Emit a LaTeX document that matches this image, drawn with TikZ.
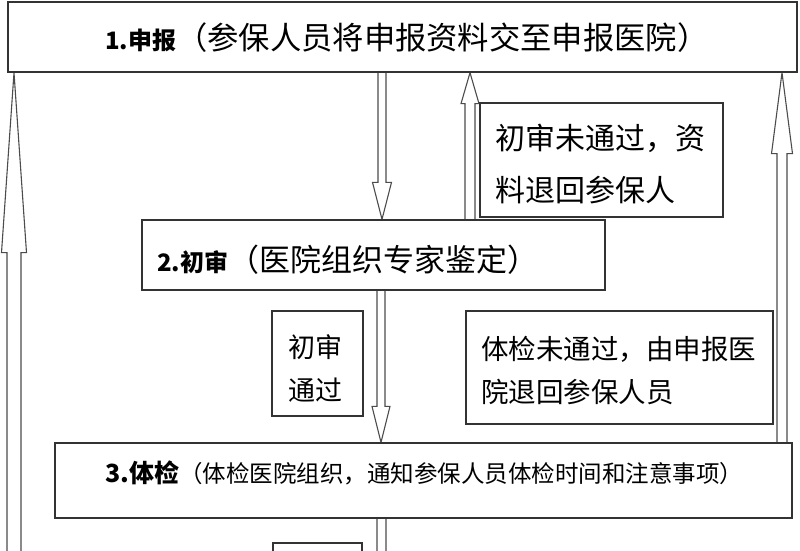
\documentclass[tikz,border=0pt]{standalone}
\usepackage{fontspec}
\newfontfamily\cjk{Noto Sans CJK SC}
\usetikzlibrary{calc}
\pgfdeclarelayer{bg}
\pgfsetlayers{bg,main}
% hollow arrow: #1 centre x, #2 tail anchor, #3 tip anchor, #4 shaft half width, #5 head half width, #6 head length
\newcommand\harrow[6]{%
  \draw[harr] let \p1=(#2), \p2=(#3), \n1={sign(\y2-\y1)} in
    ({#1pt-#4pt},{\y1}) -- ({#1pt-#4pt},{\y2-(\n1)*#6pt}) -- ({#1pt-#5pt},{\y2-(\n1)*#6pt})
    -- ({#1pt},{\y2}) -- ({#1pt+#5pt},{\y2-(\n1)*#6pt}) -- ({#1pt+#4pt},{\y2-(\n1)*#6pt})
    -- ({#1pt+#4pt},{\y1});}
\begin{document}
\begin{tikzpicture}[x=1pt,y=-1pt,
  box/.style={draw=black!80, line width=1.3pt, fill=white, inner sep=0pt, rectangle},
  harr/.style={draw=black!70, line width=1.1pt, fill=white, line join=miter},
  lbl/.style={font=\cjk, inner sep=0pt, anchor=base west},
  mtxt/.style={font=\cjk, inner sep=0pt, anchor=west, align=left}]
\useasboundingbox (0,0) rectangle (800,550);
\begin{pgfonlayer}{bg}
\fill[white] (-5,-5) rectangle (805,555);
\end{pgfonlayer}
% main boxes
\node[box, minimum width=789, minimum height=70] (b1) at (402.5,37) {};
\node[box, minimum width=463, minimum height=70] (b2) at (373.5,255) {};
\node[box, minimum width=737, minimum height=75] (b3) at (423.5,480.5) {};
% note boxes
\node[box, minimum width=243, minimum height=114] (t1) at (601.5,160) {};
\node[box, minimum width=91, minimum height=105] (t2) at (317.5,363.5) {};
\node[box, minimum width=307, minimum height=113] (t3) at (619.5,367.5) {};
\node[box, minimum width=89, minimum height=60] (t4) at (317.5,573) {};
% texts
\node[lbl] (b1t) at (105,49) {{\bfseries\fontsize{24}{28}\selectfont 1.申报}\fontsize{31.3}{36}\selectfont（参保人员将申报资料交至申报医院）};
\node[lbl] (b2t) at (157,271) {{\bfseries\fontsize{24}{28}\selectfont 2.初审}\fontsize{31}{36}\selectfont（医院组织专家鉴定）};
\node[lbl] (b3t) at (105,482) {{\bfseries\fontsize{25}{30}\selectfont 3.体检}\fontsize{23.5}{28}\selectfont（体检医院组织，通知参保人员体检时间和注意事项）};
\node[mtxt, font={\cjk\fontsize{30}{52}\selectfont}] (t1t) at (495,164) {初审未通过，资\\料退回参保人};
\node[mtxt, font={\cjk\fontsize{27}{43}\selectfont}] (t2t) at (288,368.5) {初审\\通过};
\node[mtxt, font={\cjk\fontsize{27.5}{43}\selectfont}] (t3t) at (481,370.5) {体检未通过，由申报医\\院退回参保人员};
% free ends beyond the lower edge
\coordinate (endL) at (14,560);
\coordinate (endM) at (381.5,620);
% hollow arrows
\begin{pgfonlayer}{bg}
\harrow{382}{b1.south}{b2.north}{4}{9.5}{37}
\harrow{470}{b2.north}{b1.south}{5}{9}{31}
\harrow{381}{b2.south}{b3.north}{4}{9}{36}
\harrow{782}{b3.north}{b1.south}{5}{10.5}{81}
\harrow{14}{endL}{b1.south}{7}{12.5}{180}
\harrow{381.5}{b3.south}{endM}{4.5}{9}{30}
\end{pgfonlayer}
\end{tikzpicture}
\end{document}
